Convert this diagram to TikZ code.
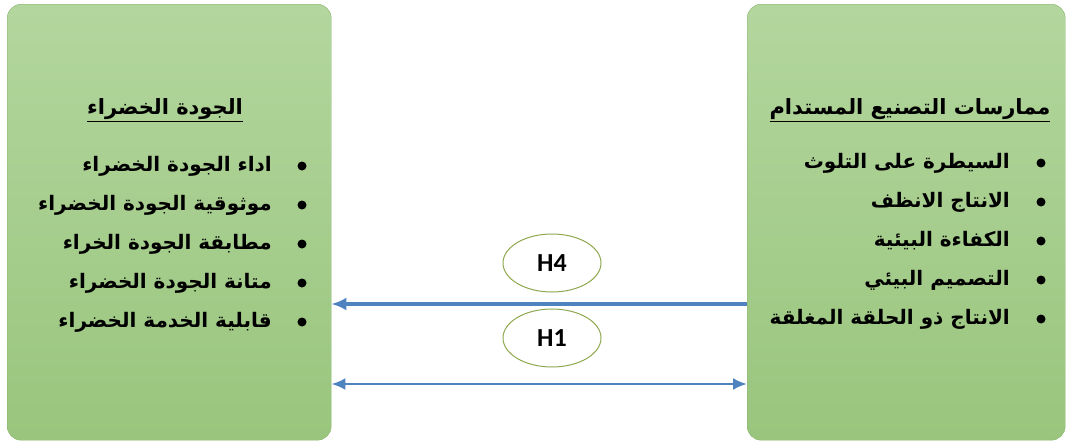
\documentclass[tikz,border=0pt]{standalone}
\usepackage{fontspec}
\setmainfont{DejaVu Sans}
\newfontfamily\arabicfont[Script=Arabic]{DejaVu Sans}
\newfontfamily\hypfont{Carlito}
\TeXXeTstate=1
\usetikzlibrary{positioning,shapes,arrows.meta}
\definecolor{boxtop}{HTML}{B3D69E}
\definecolor{boxbottom}{HTML}{99C57D}
\definecolor{boxline}{HTML}{86B26A}
\definecolor{linkblue}{HTML}{4F83BF}
\definecolor{ovalline}{HTML}{8FA84F}

\begin{document}
\begin{tikzpicture}[x=1pt,y=-1pt,
  greenbox/.style = {draw=boxline, top color=boxtop, bottom color=boxbottom, rounded corners=14pt, anchor=north west, inner sep=0pt, minimum height=436pt},
  title/.style = {inner sep=0pt, font=\arabicfont\bfseries\fontsize{21}{25}\selectfont},
  item/.style = {anchor=east, inner sep=0pt, font=\arabicfont\bfseries\fontsize{20}{24}\selectfont},
  dot/.style = {circle, fill=black, inner sep=0pt, minimum size=9pt},
  hyp/.style = {ellipse, draw=ovalline, line width=1pt, fill=white, inner sep=0pt, minimum width=98pt, minimum height=58pt, font=\hypfont\bfseries\fontsize{26}{30}\selectfont},
  link/.style = {draw=linkblue, line width=3.2pt, -{Latex[length=15pt,width=13pt]}},
  twolink/.style = {draw=linkblue, line width=2.6pt, {Latex[length=14pt,width=12pt]}-{Latex[length=14pt,width=12pt]}}]
\useasboundingbox (0,0) rectangle (1068,447);
\node[greenbox, minimum width=324pt] (lbox) at (7,4) {};
\node[greenbox, minimum width=318pt] (rbox) at (747,4) {};
\node[title] (ltitle) at (165,110) {\underline{\beginR الجودة الخضراء\endR}};
\node[title] (rtitle) at (910,110) {\underline{\beginR ممارسات التصنيع المستدام\endR}};
\foreach \t [count=\i] in {اداء الجودة الخضراء, موثوقية الجودة الخضراء, مطابقة الجودة الخراء, متانة الجودة الخضراء, قابلية الخدمة الخضراء} {
    \node[item] (l\i) at (272,127+39*\i) {\beginR\t\endR};
    \node[dot] (ldot\i) at (302,127+39*\i) {};
}
\foreach \t [count=\i] in {السيطرة على التلوث, الانتاج الانظف, الكفاءة البيئية, التصميم البيئي, الانتاج ذو الحلقة المغلقة} {
    \node[item] (r\i) at (1010,124+39*\i) {\beginR\t\endR};
    \node[dot] (rdot\i) at (1041,124+39*\i) {};
}
\node[hyp] (h4) at (552,263) {H4};
\node[hyp] (h1) at (552,338) {H1};
\coordinate (upper) at (0,304);
\coordinate (lower) at (0,384);
\draw[link] (rbox.west |- upper) -- (lbox.east |- upper);
\draw[twolink] (lbox.east |- lower) -- (rbox.west |- lower);
\end{tikzpicture}
\end{document}
